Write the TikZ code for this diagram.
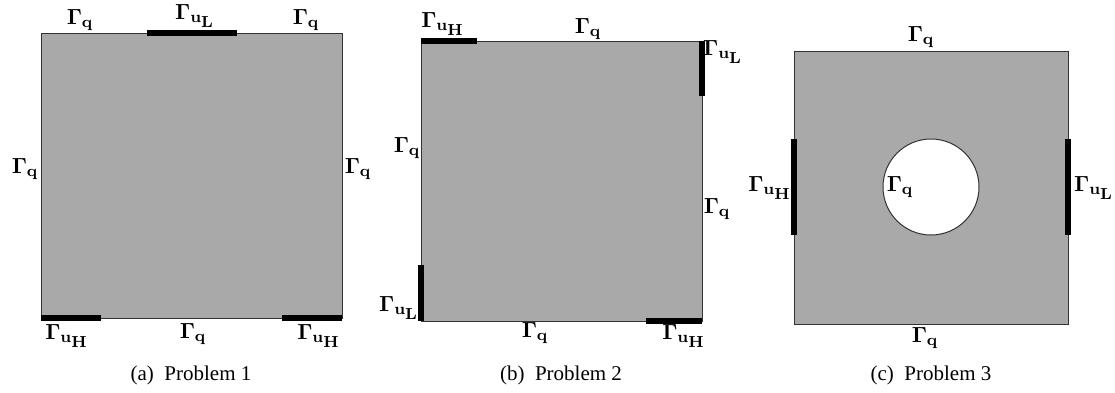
\documentclass[tikz,border=0pt]{standalone}
\usepackage[no-math]{fontspec}
\setmainfont{Liberation Serif}
\definecolor{domgray}{RGB}{169,169,169}
\newcommand{\Gq}{$\mathbf{\Gamma_q}$}
\newcommand{\GuL}{$\mathbf{\Gamma_{u_{\scriptstyle L}}}$}
\newcommand{\GuH}{$\mathbf{\Gamma_{u_{\scriptstyle H}}}$}
\begin{document}
\begin{tikzpicture}[x=0.5pt,y=-0.5pt,
	bar/.style={line width=3pt},
	dom/.style={fill=domgray,draw=black!80,line width=0.5pt},
	lab/.style={anchor=base,font=\fontsize{11}{13}\selectfont},
	subcap/.style={anchor=base,font=\fontsize{10.5}{12}\selectfont}]
	\useasboundingbox (0,0) rectangle (1115,392);
	% (a)
	\coordinate (A1) at (41,33);
	\coordinate (A2) at (342,318);
	\filldraw[dom] (A1) rectangle (A2); %領域
	\draw[bar] (147,33) -- (237,33);
	\draw[bar] (41,318) -- (101,318);
	\draw[bar] (282,318) -- (342,318);
	\node[lab] (qa1) at (80,24) {\Gq};
	\node[lab] (uLa) at (195,19) {\GuL};
	\node[lab] (qa2) at (306,24) {\Gq};
	\node[lab] (qa3) at (25,173) {\Gq};
	\node[lab] (qa4) at (358,173) {\Gq};
	\node[lab] (uHa1) at (67,339) {\GuH};
	\node[lab] (qa5) at (193,338) {\Gq};
	\node[lab] (uHa2) at (319,339) {\GuH};
	\node[subcap] (capA) at (191,380) {(a)\enspace Problem 1};
	% (b)
	\coordinate (B1) at (421,41);
	\coordinate (B2) at (702,321);
	\filldraw[dom] (B1) rectangle (B2); %領域
	\draw[bar] (421,41) -- (477,41);
	\draw[bar] (702,41) -- (702,96);
	\draw[bar] (421,265) -- (421,321);
	\draw[bar] (646,321) -- (702,321);
	\node[lab] (uHb1) at (443,27) {\GuH};
	\node[lab] (qb1) at (588,33) {\Gq};
	\node[lab] (uLb1) at (723,55) {\GuL};
	\node[lab] (qb2) at (407,152) {\Gq};
	\node[lab] (qb3) at (717,213) {\Gq};
	\node[lab] (uLb2) at (399,311) {\GuL};
	\node[lab] (qb4) at (535,337) {\Gq};
	\node[lab] (uHb2) at (684,339) {\GuH};
	\node[subcap] (capB) at (561,380) {(b)\enspace Problem 2};
	% (c)
	\coordinate (C1) at (794,51);
	\coordinate (C2) at (1068,324);
	\coordinate (O) at (931,187);
	\filldraw[dom] (C1) rectangle (C2); %領域
	\filldraw[fill=white,draw=black!80,line width=0.5pt] (O) circle [radius=48]; %穴
	\draw[bar] (794,139) -- (794,235);
	\draw[bar] (1068,139) -- (1068,235);
	\node[lab] (qc1) at (921,41) {\Gq};
	\node[lab] (uHc) at (770,191) {\GuH};
	\node[lab] (qc2) at (900,191) {\Gq};
	\node[lab] (uLc) at (1094,191) {\GuL};
	\node[lab] (qc3) at (925,342) {\Gq};
	\node[subcap] (capC) at (931,380) {(c)\enspace Problem 3};
\end{tikzpicture}
\end{document}
